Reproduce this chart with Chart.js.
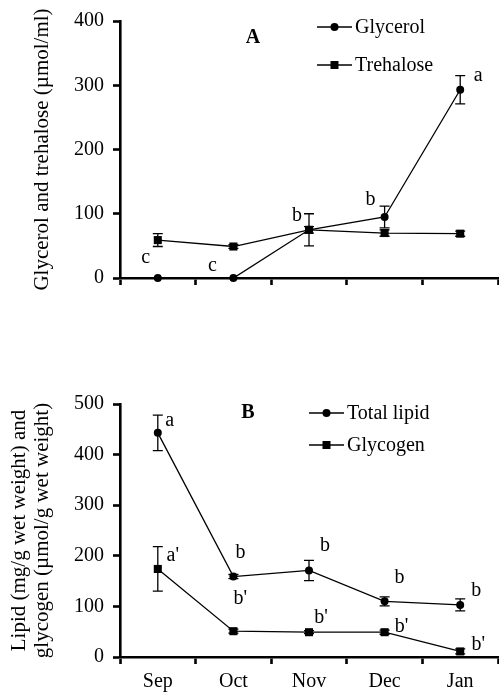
<!DOCTYPE html>
<html>
<head>
<meta charset="utf-8">
<script src="https://cdn.jsdelivr.net/npm/chart.js@4/dist/chart.umd.min.js"></script>
<style>
  html, body { margin: 0; padding: 0; background: #fff; overflow: hidden; }
  #wrap { position: relative; width: 499px; height: 696px; }
  canvas { position: absolute; left: 0; }
</style>
</head>
<body>
<div id="wrap">
  <canvas id="chartA" width="499" height="300" style="top:0px"></canvas>
  <canvas id="chartB" width="499" height="348" style="top:348px"></canvas>
</div>
<script>
// months on the x axis (both panels)
const months = ['Sep', 'Oct', 'Nov', 'Dec', 'Jan'];

// panel A
const glycerol = [0, 0, 75, 95, 293];
const glycerolErr = [0, 0, 25, 17, 22];
const glycerolSig = ['c', 'c', 'b', 'b', 'a'];
const trehalose = [59, 49, 75, 70, 69];
const trehaloseErr = [10, 3, 5, 5, 4];
const trehaloseSig = ['', '', '', '', ''];
const yTicksA = [0, 100, 200, 300, 400];

// panel B
const lipid = [443, 159, 171, 110, 103];
const lipidErr = [35, 4, 20, 9, 12];
const lipidSig = ['a', 'b', 'b', 'b', 'b'];
const glycogen = [174, 51, 49, 49, 11];
const glycogenErr = [44, 4, 3, 4, 5];
const glycogenSig = ["a'", "b'", "b'", "b'", "b'"];
const yTicksB = [0, 100, 200, 300, 400, 500];

Chart.defaults.font.family = "'Liberation Serif', 'Times New Roman', serif";
Chart.defaults.color = '#000';

// error bars, significance letters, legend and panel letter
const extras = {
  id: 'extras',
  afterDatasetsDraw(chart, args, opts) {
    const ctx = chart.ctx;
    const xs = chart.scales.x, ys = chart.scales.y;
    ctx.save();
    ctx.strokeStyle = '#000';
    ctx.fillStyle = '#000';
    ctx.lineWidth = 1.3;
    chart.data.datasets.forEach((ds, di) => {
      ds.data.forEach((v, i) => {
        const e = ds.errors[i];
        if (!e) return;
        const px = xs.getPixelForValue(i);
        const y1 = ys.getPixelForValue(v + e);
        const y2 = ys.getPixelForValue(v - e);
        ctx.beginPath();
        ctx.moveTo(px, y1); ctx.lineTo(px, y2);
        ctx.moveTo(px - 5, y1); ctx.lineTo(px + 5, y1);
        ctx.moveTo(px - 5, y2); ctx.lineTo(px + 5, y2);
        ctx.stroke();
      });
      ctx.font = "20px 'Liberation Serif'";
      ctx.textAlign = 'center';
      ctx.textBaseline = 'middle';
      const offs = opts.sigOffsets[di];
      ds.sig.forEach((s, i) => {
        if (!s) return;
        const px = xs.getPixelForValue(i);
        const py = ys.getPixelForValue(ds.data[i]);
        ctx.fillText(s, px + offs[i][0], py + offs[i][1]);
      });
    });

    // legend
    const lg = opts.legend;
    chart.data.datasets.forEach((ds, di) => {
      const ly = lg.rows[di];
      ctx.lineWidth = 1.3;
      ctx.beginPath();
      ctx.moveTo(lg.x1, ly); ctx.lineTo(lg.x2, ly);
      ctx.stroke();
      const mx = (lg.x1 + lg.x2) / 2;
      ctx.beginPath();
      if (ds.pointStyle === 'rect') ctx.rect(mx - 4, ly - 4, 8, 8);
      else ctx.arc(mx, ly, 4, 0, Math.PI * 2);
      ctx.fill();
      ctx.font = "20px 'Liberation Serif'";
      ctx.textAlign = 'left';
      ctx.textBaseline = 'middle';
      ctx.fillText(ds.label, lg.x2 + 3, ly + 1);
    });

    ctx.font = "bold 20px 'Liberation Serif'";
    ctx.textAlign = 'center';
    ctx.textBaseline = 'middle';
    ctx.fillText(opts.panel.text, opts.panel.x, opts.panel.y);
    ctx.restore();
  }
};

function makeChart(id, sets, ticks, yTitle, titlePad, xHeight, padTop, showX, extraOpts) {
  return new Chart(document.getElementById(id), {
    type: 'line',
    data: {
      labels: months,
      datasets: sets.map(s => ({
        label: s.label,
        data: s.data,
        errors: s.err,
        sig: s.sig,
        borderColor: '#000',
        backgroundColor: '#000',
        borderWidth: 1.3,
        pointStyle: s.style,
        pointRadius: s.style === 'rect' ? 5.7 : 4,
        pointBorderWidth: 0,
        tension: 0,
        clip: false
      }))
    },
    options: {
      responsive: false,
      animation: false,
      events: [],
      layout: { autoPadding: false, padding: { top: padTop, right: 1, left: 0, bottom: 0 } },
      plugins: { legend: { display: false }, tooltip: { enabled: false }, extras: extraOpts },
      scales: {
        x: {
          type: 'category',
          offset: true,
          afterFit: s => { s.height = xHeight; },
          border: { color: '#000', width: 2.6 },
          grid: { offset: true, drawOnChartArea: false, drawTicks: true, tickLength: 7, tickWidth: 2.6, tickColor: '#000' },
          ticks: { display: showX, padding: 6, font: { size: 20 }, color: '#000', maxRotation: 0 }
        },
        y: {
          min: ticks[0],
          max: ticks[ticks.length - 1],
          afterFit: s => { s.width = 120; },
          afterBuildTicks: s => { s.ticks = ticks.map(v => ({ value: v })); },
          border: { color: '#000', width: 2.6 },
          grid: { drawOnChartArea: false, drawTicks: true, tickLength: 7, tickWidth: 2.6, tickColor: '#000' },
          ticks: { padding: 9, font: { size: 20 }, color: '#000' },
          title: {
            display: true,
            text: yTitle,
            color: '#000',
            font: { size: 21, lineHeight: 1.1 },
            padding: { top: titlePad, bottom: 0 }
          }
        }
      }
    },
    plugins: [extras]
  });
}

makeChart('chartA', [
  { label: 'Glycerol', data: glycerol, err: glycerolErr, sig: glycerolSig, style: 'circle' },
  { label: 'Trehalose', data: trehalose, err: trehaloseErr, sig: trehaloseSig, style: 'rect' }
], yTicksA, 'Glycerol and trehalose (\u00b5mol/ml)', 31, 22, 16, false, {
  sigOffsets: [
    [[-12, -20], [-21, -12], [-12, -14], [-14, -17], [18, -14]],
    [[0, 0], [0, 0], [0, 0], [0, 0], [0, 0]]
  ],
  legend: { x1: 317, x2: 352, rows: [27, 65] },
  panel: { text: 'A', x: 253, y: 38 }
});

makeChart('chartB', [
  { label: 'Total lipid', data: lipid, err: lipidErr, sig: lipidSig, style: 'circle' },
  { label: 'Glycogen', data: glycogen, err: glycogenErr, sig: glycogenSig, style: 'rect' }
], yTicksB, ['Lipid (mg/g wet weight) and', 'glycogen (\u00b5mol/g wet weight)'], 8, 39, 56, true, {
  sigOffsets: [
    [[12, -12], [7, -24], [16, -25], [15, -24], [16, -14]],
    [[15, -13], [7, -32], [12, -14], [17, -5], [18, -7]]
  ],
  legend: { x1: 309, x2: 344, rows: [65, 97] },
  panel: { text: 'B', x: 248, y: 65 }
});
</script>
</body>
</html>
